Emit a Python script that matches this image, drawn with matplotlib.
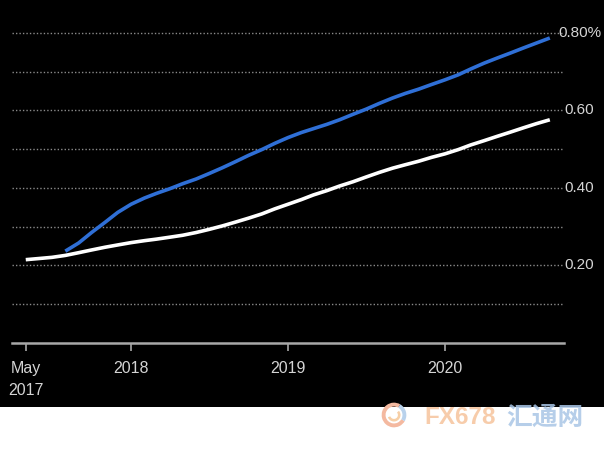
import matplotlib
matplotlib.use("Agg")
import matplotlib.pyplot as plt
from matplotlib.patches import Rectangle, Wedge
import numpy as np
import pandas as pd

plt.rcParams['font.family'] = ['Liberation Sans', 'DejaVu Sans']

# monthly points, May 2017 .. Sep 2020
months = pd.date_range('2017-05-01', periods=41, freq='MS')

white_vals = [0.215, 0.218, 0.221, 0.226, 0.233, 0.240, 0.247, 0.253, 0.259, 0.264,
              0.268, 0.273, 0.278, 0.285, 0.293, 0.302, 0.312, 0.322, 0.333, 0.346,
              0.358, 0.370, 0.382, 0.393, 0.405, 0.416, 0.428, 0.440, 0.451, 0.460,
              0.469, 0.479, 0.488, 0.499, 0.511, 0.522, 0.533, 0.544, 0.555, 0.566,
              0.576]

# blue series starts Aug 2017
blue_months = months[3:]
blue_vals = [0.237, 0.258, 0.285, 0.311, 0.337, 0.358, 0.374, 0.386, 0.398, 0.411,
             0.423, 0.437, 0.452, 0.468, 0.484, 0.499, 0.515, 0.530, 0.543, 0.553,
             0.564, 0.576, 0.590, 0.603, 0.618, 0.632, 0.644, 0.655, 0.667, 0.679,
             0.692, 0.707, 0.722, 0.735, 0.748, 0.761, 0.774, 0.787]

xtick_dates = pd.to_datetime(['2017-05-01', '2018-01-01', '2019-01-01', '2020-01-01'])
xtick_labels = ['May\n2017', '2018', '2019', '2020']
ytick_vals = [0.2, 0.4, 0.6, 0.8]
ytick_labels = ['0.20', '0.40', '0.60', '0.80%']

W, H = 604, 453
fig = plt.figure(figsize=(W / 100, H / 100), dpi=100, facecolor='white')

# black panel on top (behind the axes)
fig.patches.append(Rectangle((0, 1 - 407 / H), 1, 407 / H, transform=fig.transFigure,
                             facecolor='black', edgecolor='none', zorder=-10))

ax = fig.add_axes([12 / W, 1 - 343 / H, 552 / W, 343 / H])
ax.set_facecolor('none')
ax.set_xlim(pd.Timestamp('2017-03-30'), pd.Timestamp('2020-10-04'))
ax.set_ylim(0, 0.885)

for y in np.arange(0.1, 0.85, 0.1):
    ax.axhline(y, color='#8a8a8a', lw=1.0, ls=(0, (1, 1.5)), zorder=1)

ax.plot(months, white_vals, color='white', lw=2.6, solid_capstyle='butt', zorder=3)
ax.plot(blue_months, blue_vals, color='#2f6fd6', lw=2.6, solid_capstyle='butt', zorder=3)

for s in ['top', 'left', 'right']:
    ax.spines[s].set_visible(False)
ax.spines['bottom'].set_color('#a8a8a8')
ax.spines['bottom'].set_linewidth(1.8)

ax.set_xticks(xtick_dates)
ax.set_xticklabels(xtick_labels, fontsize=11.5, linespacing=1.55)
for t in ax.get_xticklabels():
    t.set_multialignment('center')
ax.tick_params(axis='x', colors='#a8a8a8', length=6, width=1.2, pad=7, labelcolor='#d4d4d4')
ax.set_yticks([])

for v, lab in zip(ytick_vals, ytick_labels):
    ax.text(1.028, v, lab, transform=ax.get_yaxis_transform(), ha='center', va='center',
            color='#d4d4d4', fontsize=11, clip_on=False)

# watermark
logo = fig.add_axes([381 / W, 1 - 428 / H, 26 / W, 26 / H])
logo.set_xlim(-1, 1)
logo.set_ylim(-1, 1)
logo.set_aspect('equal')
logo.axis('off')
logo.add_patch(Wedge((0, 0), 0.95, 60, 330, width=0.3, facecolor='#f4b9a0', edgecolor='none'))
logo.add_patch(Wedge((0, 0), 0.5, 200, 40, width=0.2, facecolor='#f7cfa6', edgecolor='none'))
logo.add_patch(Wedge((0, 0), 0.95, 330, 60, width=0.3, facecolor='#b9d2ec', edgecolor='none'))

fig.text(424 / W, 1 - 417 / H, 'FX678', color='#f6c49c', fontsize=17.5, fontweight='bold',
         va='center', ha='left', alpha=0.85)
fig.text(506 / W, 1 - 417 / H, '汇通网', color='#a9c6e6', fontsize=18.5, fontweight='bold',
         va='center', ha='left', family=['Noto Sans CJK SC', 'DejaVu Sans'], alpha=0.85)

fig.savefig('out.png', dpi=100, facecolor='white')
